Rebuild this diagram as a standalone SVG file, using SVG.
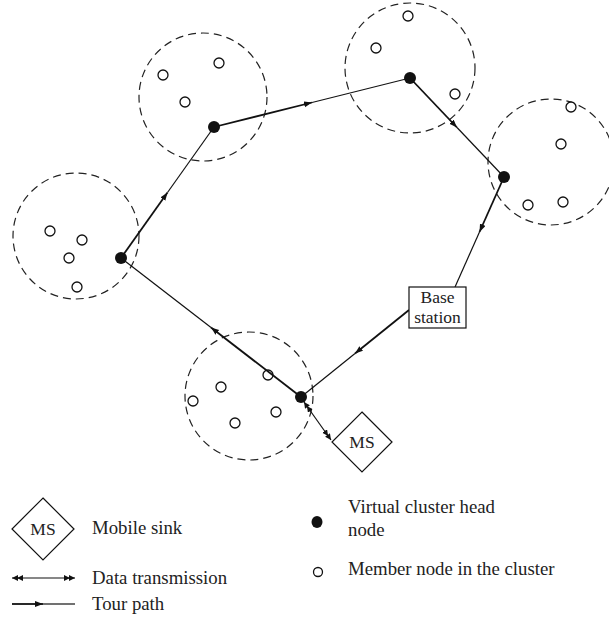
<svg xmlns="http://www.w3.org/2000/svg" width="609" height="618" viewBox="0 0 609 618">
<style>
.cl{fill:none;stroke:#222;stroke-width:1.2;stroke-dasharray:8 5}
.mem{fill:#fff;stroke:#111;stroke-width:1.3}
.head{fill:#111}
.thk{fill:none;stroke:#111;stroke-width:1.8}
.thn{fill:none;stroke:#111;stroke-width:1.2}
.box{fill:#fff;stroke:#111;stroke-width:1.2}
text{font-family:"Liberation Serif","Times New Roman",serif;font-size:17.5px;fill:#222}
.lg{font-size:18.8px}
.c{text-anchor:middle}
</style>
<defs>
<marker id="tour" markerUnits="userSpaceOnUse" markerWidth="10" markerHeight="8" refX="8" refY="3" orient="auto">
<path d="M0,0 L8,3 L0,6 z" fill="#111"/>
</marker>
<marker id="dbl" markerUnits="userSpaceOnUse" markerWidth="12" markerHeight="8" refX="11" refY="3" orient="auto-start-reverse">
<path d="M0,0 L6,3 L0,6 z M5,0 L11,3 L5,6 z" fill="#111"/>
</marker>
</defs>

<g id="clusters">
<circle class="cl" cx="76" cy="236" r="63"/>
<circle class="cl" cx="203" cy="97" r="64"/>
<circle class="cl" cx="410" cy="68" r="65"/>
<circle class="cl" cx="551" cy="162" r="63"/>
<circle class="cl" cx="249" cy="396" r="64"/>
</g>

<g id="members">
<circle class="mem" cx="50" cy="231" r="5"/>
<circle class="mem" cx="82" cy="240" r="5"/>
<circle class="mem" cx="69" cy="258" r="5"/>
<circle class="mem" cx="77" cy="287" r="5"/>
<circle class="mem" cx="163" cy="75" r="5"/>
<circle class="mem" cx="219" cy="63" r="5"/>
<circle class="mem" cx="185" cy="102" r="5"/>
<circle class="mem" cx="408" cy="16" r="5"/>
<circle class="mem" cx="376" cy="48" r="5"/>
<circle class="mem" cx="455" cy="94" r="5"/>
<circle class="mem" cx="571" cy="107" r="5"/>
<circle class="mem" cx="561" cy="144" r="5"/>
<circle class="mem" cx="528" cy="205" r="5"/>
<circle class="mem" cx="563" cy="202" r="5"/>
<circle class="mem" cx="268" cy="375" r="5"/>
<circle class="mem" cx="221" cy="387" r="5"/>
<circle class="mem" cx="193" cy="401" r="5"/>
<circle class="mem" cx="276" cy="412" r="5"/>
<circle class="mem" cx="235" cy="423" r="5"/>
</g>

<g id="connectors">
<path class="thk" d="M121,258 L167.5,192.5" marker-end="url(#tour)"/>
<path class="thn" d="M167.5,192.5 L214,127"/>
<path class="thk" d="M214,127 L312,102.5" marker-end="url(#tour)"/>
<path class="thn" d="M312,102.5 L410,78"/>
<path class="thk" d="M410,78 L457,127.5" marker-end="url(#tour)"/>
<path class="thn" d="M457,127.5 L504,177"/>
<path class="thk" d="M504,177 L479.5,232" marker-end="url(#tour)"/>
<path class="thn" d="M479.5,232 L455,287"/>
<path class="thk" d="M409,310 L355,353.5" marker-end="url(#tour)"/>
<path class="thn" d="M355,353.5 L301,397"/>
<path class="thk" d="M301,397 L211,327.5" marker-end="url(#tour)"/>
<path class="thn" d="M211,327.5 L121,258"/>
<path class="thn" d="M304,402 L331,440" marker-start="url(#dbl)" marker-end="url(#dbl)"/>
</g>

<g id="heads">
<circle class="head" cx="121" cy="258" r="6"/>
<circle class="head" cx="214" cy="127" r="6"/>
<circle class="head" cx="410" cy="78" r="6"/>
<circle class="head" cx="504" cy="177" r="6"/>
<circle class="head" cx="301" cy="397" r="6"/>
</g>

<g id="base-station">
<rect class="box" x="409" y="287" width="57" height="41"/>
<text class="c" x="437.5" y="303">Base</text>
<text class="c" x="437.5" y="323">station</text>
</g>

<g id="ms">
<path class="box" d="M362,412 L392,442 L362,472 L332,442 z"/>
<text class="c" x="362" y="448">MS</text>
</g>

<g id="legend">
<path class="box" d="M43,498 L74,529 L43,560 L12,529 z"/>
<text class="c" x="43" y="535">MS</text>
<text class="lg" x="92" y="534">Mobile sink</text>
<path class="thn" d="M12,578 L75,578" marker-start="url(#dbl)" marker-end="url(#dbl)"/>
<text class="lg" x="92" y="584">Data transmission</text>
<path class="thk" d="M12,604 L43,604" marker-end="url(#tour)"/>
<path class="thn" d="M43,604 L75,604"/>
<text class="lg" x="92" y="610">Tour path</text>
<ellipse class="head" cx="317" cy="522" rx="5.5" ry="6"/>
<text class="lg" x="348" y="513">Virtual cluster head</text>
<text class="lg" x="348" y="536">node</text>
<circle class="mem" cx="318" cy="572" r="4.5"/>
<text class="lg" x="348" y="575">Member node in the cluster</text>
</g>
</svg>
